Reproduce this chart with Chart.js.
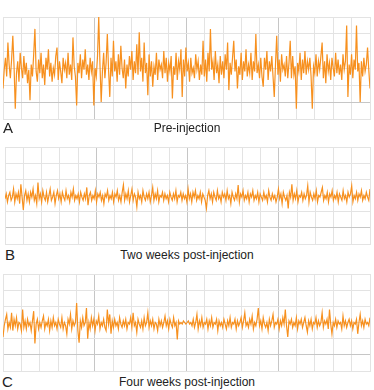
<!DOCTYPE html>
<html>
<head>
<meta charset="utf-8">
<script src="https://cdn.jsdelivr.net/npm/chart.js@4/dist/chart.umd.min.js"></script>
<style>
  body { margin: 0; background: #fff; width: 374px; height: 390px; position: relative; overflow: hidden; font-family: "Liberation Sans", Arial, sans-serif; color: #222; }
  .panel { position: absolute; }
  .letter { position: absolute; font-size: 15px; line-height: 1; }
  .caption { position: absolute; font-size: 12px; line-height: 1; width: 374px; left: 0; text-align: center; }
</style>
</head>
<body>
<div class="panel" style="left:2px;top:16px;width:369px;height:104px"><canvas id="chartA"></canvas></div>
<div class="panel" style="left:4px;top:146px;width:367px;height:99px"><canvas id="chartB"></canvas></div>
<div class="panel" style="left:2px;top:273px;width:369px;height:99px"><canvas id="chartC"></canvas></div>

<div class="letter" style="left:3px;top:120px">A</div>
<div class="caption" style="top:122px">Pre-injection</div>
<div class="letter" style="left:5px;top:247px">B</div>
<div class="caption" style="top:249px">Two weeks post-injection</div>
<div class="letter" style="left:2px;top:374px">C</div>
<div class="caption" style="top:376px">Four weeks post-injection</div>

<script>
// traces, in grid units (one minor division = 1)
const preInjection = [
  0.8, 1.9, 2.6, 1.5, 3.5, 2.2, 1.4, 2.5, 3.9, 2.1,
  -0.4, 1.7, 2.4, 1.2, 2.9, 2.0, 1.4, 2.7, 1.6, 2.3,
  1.1, 1.9, 0.1, 2.2, 1.5, 2.8, 4.3, 1.8, 1.2, 2.5,
  1.7, 2.9, 1.4, 2.2, 1.0, 2.6, 1.9, 3.1, 1.5, 2.3,
  1.2, 2.0, 1.6, 2.7, 3.2, 1.3, 2.4, 1.8, 1.1, 2.6,
  1.9, 2.3, 1.4, 2.9, 1.6, 2.2, 1.3, 3.8, 2.1, 1.5,
  -0.2, 2.3, 1.7, 2.8, 1.4, 2.5, 1.9, 3.1, 1.6, 2.2,
  1.3, 2.6, 1.8, 2.4, -0.2, 2.0, 1.5, 2.7, 5.0, 2.2,
  0.0, 1.8, 2.9, 1.4, 2.3, 4.0, 1.9, 0.3, 2.6, 1.5,
  3.6, 1.8, 2.4, 1.2, 2.8, 1.6, 3.3, 2.0, 1.4, 2.5,
  0.8, 2.2, 1.5, 2.7, 1.9, 3.0, 1.3, 2.4, 1.7, 3.4,
  1.6, 4.1, 1.8, 2.6, 1.2, 3.5, 1.7, 2.3, 0.4, 2.8,
  1.5, 2.4, 0.9, 2.1, 1.6, 2.9, 1.3, 2.5, 1.9, 2.2,
  1.4, 3.0, 1.7, 2.6, 1.2, 2.3, 1.8, 2.7, 0.2, 2.1,
  1.6, 2.9, 1.3, 2.4, 1.9, 3.1, 0.3, 2.5, 1.5, 3.2,
  1.8, 2.3, 1.2, 2.6, 1.7, 2.0, 1.4, 2.8, 1.9, 2.4,
  1.3, 2.2, 1.6, 3.6, 1.5, 2.5, 1.2, 2.9, 1.8, 4.3,
  1.9, 2.4, 1.3, 3.0, 1.7, 2.2, 1.1, 2.7, 1.6, 2.4,
  1.4, 2.8, 1.9, 3.5, 0.7, 2.3, 1.6, 2.6, 3.6, 1.8,
  2.5, 0.8, 2.1, 1.6, 2.9, 1.3, 2.4, 1.8, 3.1, 1.5,
  2.2, 1.7, 2.9, 1.3, 2.4, 1.8, 4.0, 1.7, 2.2, 1.4,
  2.6, 1.5, 0.9, 2.6, 1.9, 3.0, 1.3, 2.4, 1.8, 2.7,
  1.5, 0.3, 2.2, 3.9, 1.6, 2.5, 1.2, 2.8, 1.9, 2.2,
  1.5, 2.7, 1.4, 2.3, 3.6, 1.4, 2.7, 1.6, 2.1, -0.4,
  2.3, 1.8, 2.9, 1.3, 2.5, 1.7, 3.0, 1.6, 2.4, 1.9,
  2.6, 1.5, -0.4, 2.1, 1.7, 2.8, 1.5, 2.4, 1.9, 2.7,
  3.5, 1.4, 2.4, 1.1, 2.8, 1.8, 2.3, 1.3, 2.6, 2.0,
  1.5, 2.9, 1.7, 2.5, 1.6, 2.2, 1.3, 2.8, 1.9, 2.4,
  4.5, 0.3, 2.2, 1.6, 2.8, 1.4, 2.5, 1.9, 4.5, 1.8,
  2.3, 0.0, 2.4, 1.5, 2.6, 1.8, 2.2, 3.2, 1.9, 0.8
];

const twoWeeks = [
  1.8, 2.1, 1.6, 2.0, 2.2, 1.7, 1.9, 2.4, 1.6, 2.1,
  1.8, 2.2, 1.5, 2.7, 1.9, 1.1, 2.0, 2.3, 1.7, 2.1,
  1.6, 2.2, 1.9, 2.4, 1.7, 2.0, 1.5, 2.8, 1.8, 2.1,
  1.6, 2.3, 1.9, 1.7, 2.2, 1.6, 2.0, 2.4, 1.7, 1.9,
  2.2, 1.5, 2.0, 2.3, 1.8, 2.1, 1.6, 2.2, 1.9, 1.7,
  2.3, 1.8, 2.0, 1.6, 2.2, 1.9, 2.4, 1.7, 2.0, 1.8,
  2.1, 1.6, 2.2, 1.9, 1.7, 2.1, 1.8, 2.5, 1.4, 2.0,
  2.2, 1.7, 2.0, 1.8, 2.3, 1.6, 2.1, 1.9, 2.2, 1.7,
  2.0, 1.5, 2.1, 1.9, 2.3, 1.7, 2.0, 1.8, 2.2, 1.6,
  2.1, 1.9, 2.3, 1.7, 2.0, 1.6, 2.2, 2.65, 1.7, 2.1,
  1.8, 2.3, 1.6, 2.0, 2.4, 1.7, 2.1, 1.9, 1.3, 2.2,
  1.8, 2.0, 1.6, 2.3, 1.9, 1.7, 2.1, 1.8, 2.2, 1.6,
  2.0, 2.5, 1.7, 2.1, 1.8, 2.3, 1.6, 2.0, 1.9, 2.2,
  1.7, 2.1, 1.8, 2.0, 1.6, 2.2, 1.9, 1.7, 2.1, 1.8,
  2.3, 1.6, 2.0, 1.9, 2.2, 1.7, 2.1, 1.8, 2.0, 1.6,
  2.4, 1.8, 2.1, 1.6, 2.2, 1.9, 2.3, 1.7, 2.0, 1.8,
  2.2, 1.6, 2.1, 1.9, 1.7, 1.2, 2.0, 2.3, 1.8, 2.1,
  1.6, 2.2, 1.9, 1.7, 2.3, 1.8, 2.0, 1.6, 2.2, 1.9,
  2.1, 1.7, 2.3, 1.8, 2.0, 1.5, 2.2, 1.9, 1.7, 2.1,
  1.8, 2.65, 1.6, 2.1, 1.9, 2.3, 1.7, 2.0, 1.8, 2.2,
  1.6, 2.1, 1.9, 2.3, 1.7, 2.0, 1.8, 2.2, 1.6, 2.1,
  1.9, 1.7, 2.2, 1.8, 2.0, 1.6, 2.3, 1.9, 1.7, 2.1,
  1.8, 2.0, 1.6, 1.9, 2.4, 1.8, 2.1, 1.5, 2.2, 1.9,
  1.7, 2.0, 1.2, 2.2, 1.9, 2.7, 1.7, 2.1, 1.8, 2.3,
  1.6, 2.0, 1.9, 2.2, 1.7, 2.1, 1.8, 2.0, 2.6, 1.6,
  2.2, 1.9, 1.7, 2.1, 1.8, 2.3, 1.6, 2.0, 1.9, 2.2,
  2.5, 1.7, 2.0, 1.8, 2.2, 1.6, 2.1, 1.9, 2.3, 1.7,
  2.0, 1.8, 2.2, 1.6, 2.1, 1.9, 1.7, 2.3, 1.8, 2.0,
  1.6, 2.2, 1.9, 2.1, 2.6, 1.6, 2.0, 1.8, 2.2, 1.7,
  2.1, 1.9, 2.3, 1.7, 2.0, 1.8, 2.2, 1.9, 1.7, 2.4
];

const fourWeeks = [
  1.1, 1.8, 2.2, 2.5, 1.6, 2.0, 1.7, 2.6, 1.5, 2.2,
  1.8, 2.3, 1.6, 2.0, 1.9, 1.5, 2.8, 1.7, 2.1, 1.6,
  2.2, 1.8, 2.0, 1.5, 2.1, 2.7, 0.7, 1.9, 2.2, 1.6,
  2.0, 1.7, 2.1, 2.4, 1.6, 2.0, 1.8, 2.2, 1.5, 2.1,
  1.7, 2.3, 1.8, 2.0, 1.6, 2.2, 1.9, 1.7, 2.3, 1.6,
  2.0, 1.8, 1.3, 2.2, 1.9, 2.5, 1.6, 2.1, 1.8, 2.0,
  3.2, 1.5, 0.75, 2.1, 1.7, 2.3, 1.8, 2.0, 2.9, 1.0,
  2.0, 1.6, 2.3, 1.8, 2.2, 1.5, 2.1, 1.9, 2.4, 1.6,
  2.0, 1.8, 2.2, 1.7, 1.5, 2.8, 1.9, 2.5, 1.3, 2.1,
  1.7, 2.2, 1.8, 2.0, 1.6, 2.3, 1.9, 1.7, 2.1, 1.8,
  2.2, 1.6, 2.0, 1.9, 2.3, 1.7, 2.6, 1.8, 2.0, 1.4,
  2.2, 1.9, 1.7, 2.1, 1.6, 2.3, 1.8, 2.0, 2.6, 1.7,
  2.1, 1.8, 2.2, 1.6, 2.0, 1.9, 1.5, 2.2, 1.8, 2.1,
  1.7, 2.0, 2.4, 1.8, 2.1, 1.6, 2.2, 1.9, 1.7, 2.3,
  1.8, 2.0, 0.95, 2.1, 1.9, 2.0, 1.9, 2.1, 2.0, 1.9,
  2.0, 2.1, 1.9, 2.0, 1.8, 2.2, 1.7, 2.0, 2.5, 1.6,
  2.1, 1.8, 2.3, 1.7, 2.0, 1.9, 2.2, 1.6, 2.1, 1.8,
  2.3, 1.7, 2.0, 1.9, 2.2, 1.5, 2.1, 1.8, 2.0, 1.7,
  2.2, 1.9, 1.6, 2.1, 1.8, 2.3, 1.7, 2.0, 1.9, 2.2,
  1.6, 2.1, 1.8, 2.0, 2.3, 1.7, 2.1, 2.6, 1.8, 2.0,
  1.7, 2.2, 1.9, 2.4, 1.6, 2.0, 1.8, 2.2, 2.9, 1.8,
  2.1, 1.6, 2.3, 1.9, 1.7, 2.0, 1.5, 2.2, 1.8, 2.1,
  2.5, 1.7, 2.0, 1.9, 2.2, 1.6, 2.1, 1.8, 2.3, 1.9,
  2.8, 1.8, 1.1, 2.1, 1.9, 2.2, 1.7, 2.0, 1.8, 2.3,
  1.6, 2.1, 1.9, 2.2, 1.7, 2.0, 2.3, 1.8, 1.4, 2.1,
  1.8, 2.2, 1.6, 2.0, 1.9, 2.3, 1.7, 2.1, 1.8, 2.0,
  2.6, 1.7, 2.1, 1.9, 2.2, 1.6, 2.8, 1.9, 1.3, 2.0,
  1.8, 2.2, 1.7, 2.1, 1.9, 2.0, 1.6, 2.4, 1.8, 2.1,
  1.7, 2.0, 2.2, 1.8, 2.1, 1.6, 2.0, 1.9, 2.2, 1.3,
  2.0, 2.5, 1.8, 2.1, 1.7, 2.2, 1.9, 2.0, 1.8, 2.3
];

const traceColor = '#f7901e';
const minorGrid = '#e3e3e3';
const majorGrid = '#c6c6c6';

function makePanel(id, values) {
  // spread the samples across 20 minor divisions
  const points = values.map((v, i) => ({ x: i * 20 / (values.length - 1), y: v }));
  return new Chart(document.getElementById(id), {
    type: 'line',
    data: {
      datasets: [{
        data: points,
        borderColor: traceColor,
        borderWidth: 1.2,
        pointRadius: 0,
        tension: 0
      }]
    },
    options: {
      responsive: true,
      maintainAspectRatio: false,
      animation: false,
      layout: { padding: 1 },
      plugins: { legend: { display: false }, tooltip: { enabled: false } },
      scales: {
        x: {
          type: 'linear',
          min: 0, max: 20,
          ticks: { display: false, stepSize: 1 },
          grid: {
            drawTicks: false,
            color: c => (c.tick.value % 5 === 0 && c.tick.value !== 0 && c.tick.value !== 20) ? majorGrid : minorGrid
          },
          border: { color: minorGrid }
        },
        y: {
          min: -1, max: 5,
          ticks: { display: false, stepSize: 1 },
          grid: {
            drawTicks: false,
            color: c => c.tick.value === 0 ? majorGrid : minorGrid
          },
          border: { color: minorGrid }
        }
      }
    }
  });
}

makePanel('chartA', preInjection);
makePanel('chartB', twoWeeks);
makePanel('chartC', fourWeeks);
</script>
</body>
</html>
